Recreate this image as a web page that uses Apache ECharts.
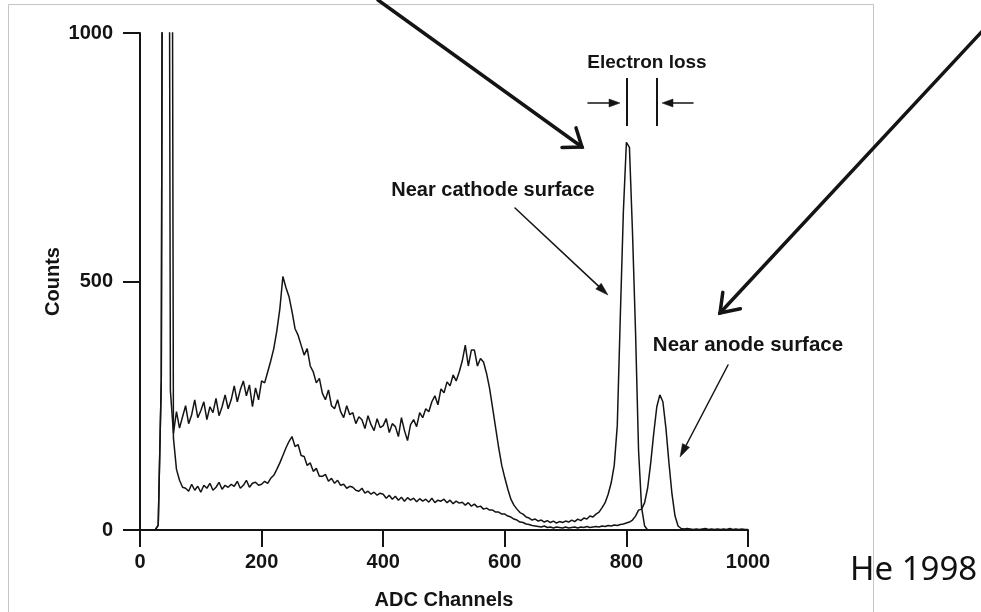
<!DOCTYPE html>
<html>
<head>
<meta charset="utf-8">
<script src="https://cdn.jsdelivr.net/npm/echarts@6/dist/echarts.min.js"></script>
<style>
  html, body { margin: 0; padding: 0; background: #fff; }
  #c { width: 981px; height: 612px; }
</style>
</head>
<body>
<div id="c"></div>
<script>
// ---- Data (channel step = 5) ----
const channelStep = 5;
// Near cathode surface (upper continuum, peak ~800)
const cathodeCounts = [
  0,0,0,0,0,0,10,300,3000,3000,
  280,195,238,205,228,250,214,232,262,226,
  240,258,222,248,236,265,230,248,272,244,
  262,290,258,282,300,270,292,248,286,262,
  300,296,318,340,365,400,445,510,488,470,
  440,405,392,372,352,365,330,318,296,305,
  275,262,282,250,244,262,238,226,250,232,
  236,214,228,222,204,230,212,200,224,206,
  210,224,196,214,208,188,226,200,180,212,
  222,208,236,226,244,238,258,270,252,284,
  276,298,290,312,300,318,340,372,330,362,
  362,330,345,338,315,285,245,205,165,130,
  105,82,62,50,42,35,32,26,24,20,
  22,18,20,16,19,15,18,14,17,15,
  18,16,20,17,22,19,24,22,28,26,
  32,36,45,55,72,95,130,210,430,640,
  780,770,600,400,160,45,8,0,0,0,
  0,0,0,0,0,0,0,0,0,0,
  0,0,0,0,0,0,0,0,0,0,
  0,0,0,0,0,0,0,0,0,0,
  0
];
// Near anode surface (lower continuum, peak ~855)
const anodeCounts = [
  0,0,0,0,0,0,10,300,3000,3000,
  3000,185,122,100,86,84,78,92,80,88,
  76,90,84,94,80,86,96,82,90,86,
  92,88,98,84,90,100,86,94,96,90,
  92,98,94,104,110,122,135,150,165,178,
  188,168,172,150,148,130,135,118,124,108,
  108,112,98,104,94,100,90,92,84,88,
  86,80,78,84,74,78,72,76,70,74,
  72,64,70,62,68,60,66,58,65,60,
  64,57,63,58,62,56,64,55,60,58,
  62,55,60,53,58,54,56,50,55,48,
  52,46,48,42,44,40,40,36,36,32,
  32,28,26,22,20,16,15,12,11,9,
  8,7,6,8,5,6,4,6,5,4,
  6,4,5,6,4,6,5,7,5,6,
  7,6,8,7,9,8,10,9,11,12,
  14,16,20,28,40,42,55,85,135,195,
  248,272,258,205,135,72,28,8,3,2,
  3,2,1,2,1,2,3,1,2,1,
  2,1,2,1,3,1,2,1,2,1,
  1
];
const xTicks = [0, 200, 400, 600, 800, 1000];
const yTicks = [0, 500, 1000];
const xTitle = 'ADC Channels';
const yTitle = 'Counts';
const labelElectronLoss = 'Electron loss';
const labelCathode = 'Near cathode surface';
const labelAnode = 'Near anode surface';
const citation = 'He 1998';

// ---- Build ----
const toPairs = arr => arr.map((v, i) => [i * channelStep, v]);
const INK = '#141414';
const FONT = '"Liberation Sans", Arial, Helvetica, sans-serif';

function arrow(x1, y1, x2, y2, w, headLen, headW, open) {
  const a = Math.atan2(y2 - y1, x2 - x1);
  const bx = x2 - headLen * Math.cos(a), by = y2 - headLen * Math.sin(a);
  const px = -Math.sin(a) * headW / 2, py = Math.cos(a) * headW / 2;
  const els = [];
  els.push({
    type: 'line', silent: true, z: 10,
    shape: { x1: x1, y1: y1, x2: open ? x2 : bx, y2: open ? y2 : by },
    style: { stroke: INK, lineWidth: w, lineCap: 'round' }
  });
  if (open) {
    els.push({
      type: 'polyline', silent: true, z: 10,
      shape: { points: [[bx + px, by + py], [x2, y2], [bx - px, by - py]] },
      style: { stroke: INK, lineWidth: w, fill: null, lineJoin: 'miter', lineCap: 'round' }
    });
  } else {
    els.push({
      type: 'polygon', silent: true, z: 10,
      shape: { points: [[bx + px, by + py], [x2, y2], [bx - px, by - py]] },
      style: { fill: INK, stroke: INK, lineWidth: 0.5 }
    });
  }
  return els;
}

function text(str, x, y, size, opts) {
  return Object.assign({
    type: 'text', silent: true, z: 10, x: x, y: y,
    style: {
      text: str, fill: INK, font: 'bold ' + size + 'px ' + FONT,
      textAlign: 'center', textVerticalAlign: 'middle'
    }
  }, opts || {});
}

const graphics = [
  { type: 'rect', silent: true, z: 0,
    shape: { x: 8.5, y: 4.5, width: 865, height: 640 },
    style: { fill: null, stroke: '#c4c4c4', lineWidth: 1 } },
  text(labelElectronLoss, 647, 63, 19),
  { type: 'line', silent: true, z: 10, shape: { x1: 627, y1: 78, x2: 627, y2: 126 }, style: { stroke: INK, lineWidth: 2 } },
  { type: 'line', silent: true, z: 10, shape: { x1: 657, y1: 78, x2: 657, y2: 126 }, style: { stroke: INK, lineWidth: 2 } },
  ...arrow(588, 103, 620, 103, 1.5, 11, 8, false),
  ...arrow(693, 103, 662, 103, 1.5, 11, 8, false),
  text(labelCathode, 493, 190, 20),
  ...arrow(515, 208, 608, 295, 1.5, 13, 8, false),
  text(labelAnode, 748, 345, 20.5),
  ...arrow(728, 365, 680, 457, 1.5, 13, 8, false),
  ...arrow(378, 0, 582, 147, 3.5, 16, 24, true),
  ...arrow(988, 25, 720, 313, 3.5, 17, 24, true),
  { type: 'text', silent: true, z: 10, x: 850, y: 571,
    style: { text: citation, fill: '#111', font: '33px "Noto Sans", "Open Sans", sans-serif',
      textAlign: 'left', textVerticalAlign: 'middle' } }
];

const axisCommon = {
  axisLine: { show: true, lineStyle: { color: INK, width: 2 } },
  axisTick: { show: true, inside: false, length: 17, lineStyle: { color: INK, width: 2 } },
  splitLine: { show: false },
  nameMoveOverlap: false,
  nameTextStyle: { fontSize: 20, fontWeight: 'bold', fontFamily: FONT, color: INK }
};
const plain = v => String(v);

const option = {
  backgroundColor: '#ffffff',
  animation: false,
  grid: { left: 140, right: 233, top: 33, bottom: 82, containLabel: false, outerBoundsMode: 'none' },
  xAxis: Object.assign({}, axisCommon, {
    type: 'value', min: 0, max: 1000, interval: 200,
    name: xTitle, nameLocation: 'middle', nameGap: 60,
    axisLabel: { fontSize: 20, fontWeight: 'bold', fontFamily: FONT, color: INK, margin: 22,
      customValues: xTicks, formatter: plain },
    axisTick: Object.assign({}, axisCommon.axisTick, { customValues: xTicks })
  }),
  yAxis: Object.assign({}, axisCommon, {
    type: 'value', min: 0, max: 1000, interval: 500,
    name: yTitle, nameLocation: 'middle', nameGap: 77, nameRotate: 90,
    axisLabel: { fontSize: 20, fontWeight: 'bold', fontFamily: FONT, color: INK, margin: 27,
      customValues: yTicks, formatter: plain },
    axisTick: Object.assign({}, axisCommon.axisTick, { customValues: yTicks })
  }),
  series: [
    { name: labelCathode, type: 'line', data: toPairs(cathodeCounts), showSymbol: false,
      clip: true, lineStyle: { color: INK, width: 1.5 }, z: 3 },
    { name: labelAnode, type: 'line', data: toPairs(anodeCounts), showSymbol: false,
      clip: true, lineStyle: { color: INK, width: 1.5 }, z: 3 }
  ],
  graphic: graphics
};

const chart = echarts.init(document.getElementById('c'));
chart.setOption(option);
</script>
</body>
</html>
